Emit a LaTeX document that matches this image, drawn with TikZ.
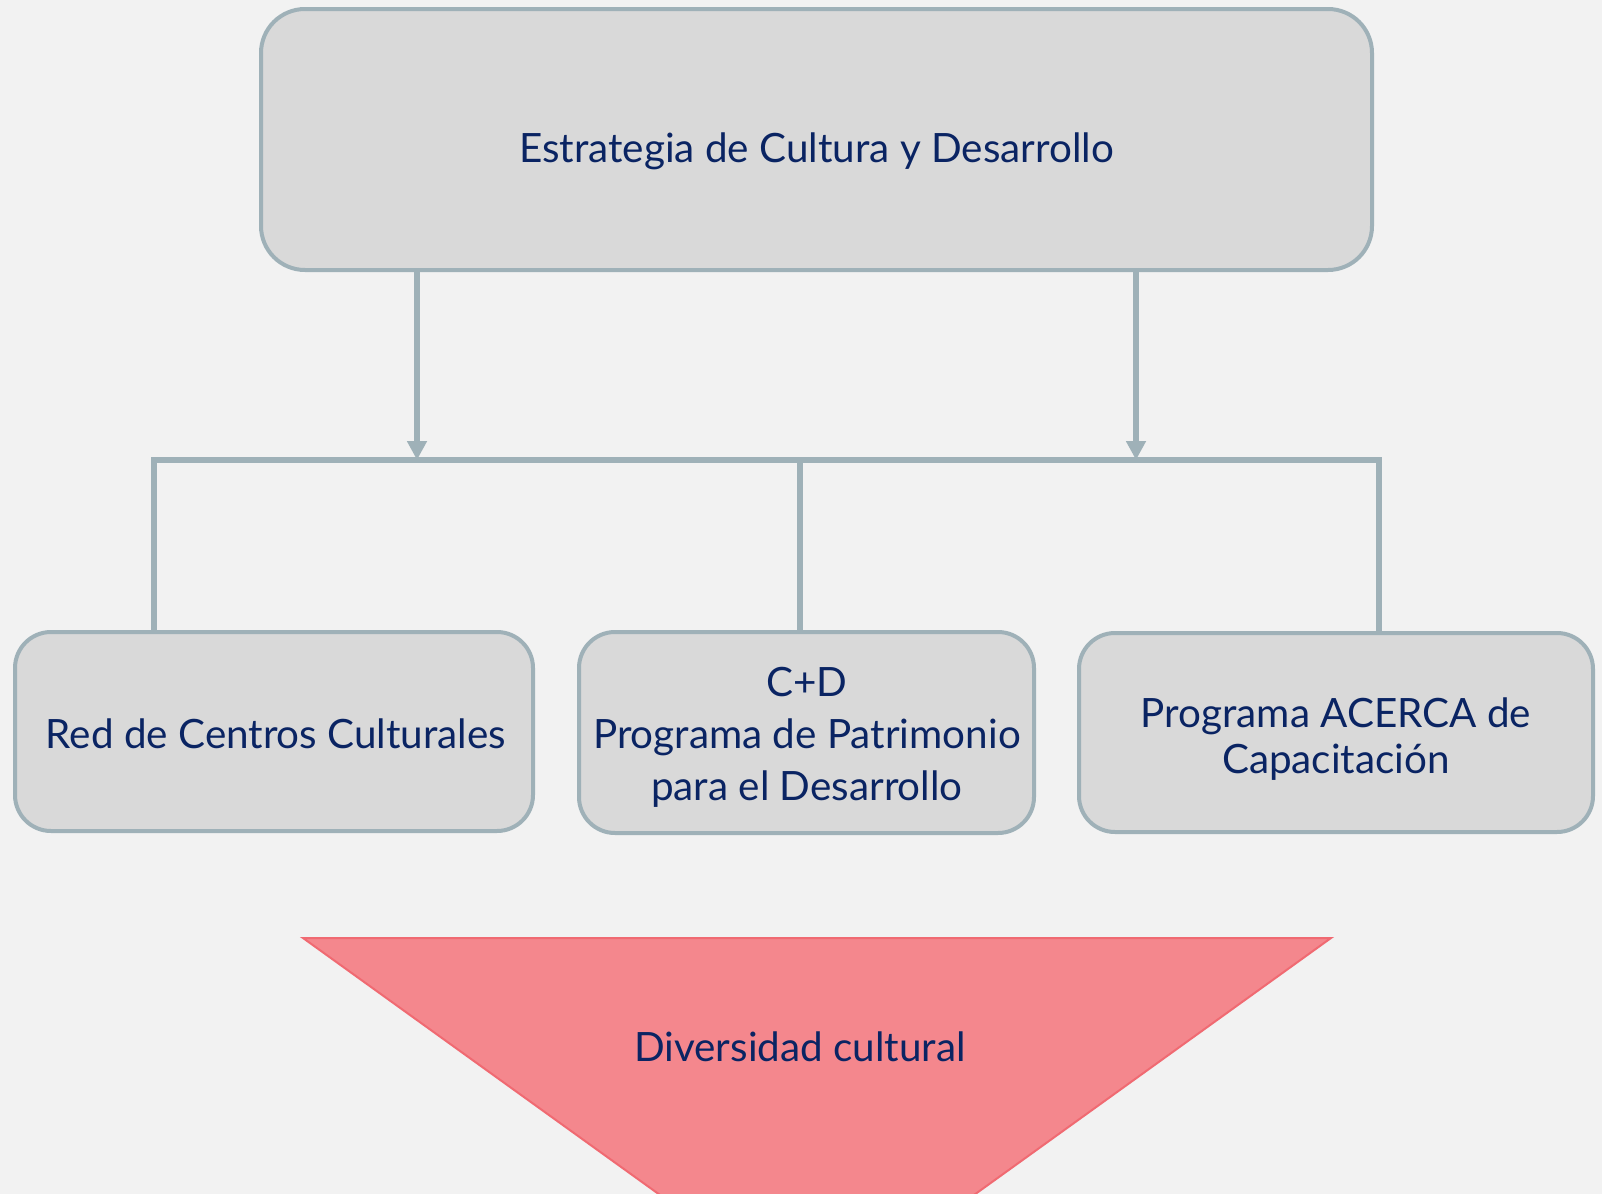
\documentclass[tikz,border=0pt]{standalone}
\usepackage{fontspec}
\setmainfont{Lato}
\usetikzlibrary{arrows.meta}
\definecolor{bg}{HTML}{F2F2F2}
\definecolor{boxfill}{HTML}{D9D9D9}
\definecolor{boxline}{HTML}{9FB1B8}
\definecolor{navy}{HTML}{0A2463}
\definecolor{trifill}{HTML}{F4878D}
\definecolor{triline}{HTML}{F06A72}
\tikzset{
  box/.style={draw=boxline, line width=2pt, fill=boxfill, rounded corners=18pt, inner sep=0pt},
  txt/.style={align=center, text=navy, font=\fontsize{20.2}{26}\selectfont, inner sep=0pt},
  conn/.style={draw=boxline, line width=3pt},
  arr/.style={conn, -{Triangle[width=9.5pt,length=9.5pt]}},
}
\begin{document}
\begin{tikzpicture}[x=0.5pt,y=-0.5pt]
\useasboundingbox (0,0) rectangle (1602,1194);
\fill[bg] (0,0) rectangle (1602,1194);
% triangle
\begin{scope}
\clip (0,0) rectangle (1602,1194);
\draw[fill=trifill, draw=triline, line width=1pt] (303,938) -- (1331,938) -- (817,1308) -- cycle;
\end{scope}
\node[txt] (div) at (800,1047) {Diversidad cultural};
% top box
\node[box, rounded corners=22pt, minimum width=555.5pt, minimum height=130.5pt] (top) at (816.5,139.5) {};
\node[txt] (ttop) at (816.5,151.5) {Estrategia de Cultura y Desarrollo};
% bottom boxes
\node[box, minimum width=259pt, minimum height=99.5pt] (b1) at (274,731.5) {};
\node[txt] (t1) at (276,733.5) {Red de Centros Culturales};
\node[box, minimum width=227.5pt, minimum height=100.5pt] (b2) at (806.5,732.5) {};
\node[txt] (t2) at (807,737.5) {C+D\\Programa de Patrimonio\\para el Desarrollo};
\node[box, minimum width=257pt, minimum height=99.5pt] (b3) at (1336,732.5) {};
\node[txt, font=\fontsize{20.2}{22.7}\selectfont] (t3) at (1336,739) {Programa ACERCA de\\Capacitación};
% connectors
\coordinate (j1) at (417,460);
\coordinate (j2) at (1136,460);
\coordinate (hL) at (154,460);
\coordinate (hM) at (800,460);
\coordinate (hR) at (1379,460);
\draw[arr] (top.south -| j1) -- (j1);
\draw[arr] (top.south -| j2) -- (j2);
\draw[conn] (b1.north -| hL) -- (hL) -- (hR) -- (b3.north -| hR);
\draw[conn] (hM) -- (b2.north -| hM);
\end{tikzpicture}
\end{document}
